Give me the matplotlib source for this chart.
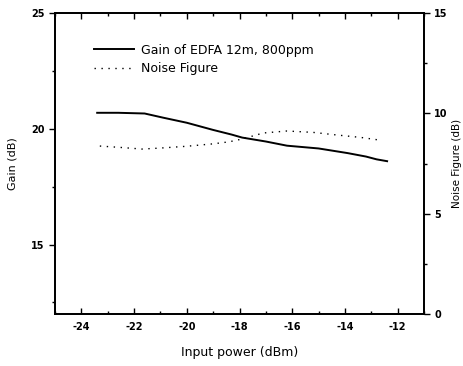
import matplotlib.pyplot as plt
from matplotlib.ticker import MultipleLocator

plt.rcParams["axes.unicode_minus"] = False

# --- Données ---
gain_x = [-23.4, -22.6, -21.6, -20.9, -20.0, -19.0, -18.3, -17.9, -17.0, -16.2, -15.0, -13.9, -13.2, -12.8, -12.4]
gain_db = [20.69, 20.69, 20.66, 20.48, 20.26, 19.95, 19.75, 19.62, 19.45, 19.27, 19.15, 18.95, 18.8, 18.68, 18.6]

nf_x = [-23.3, -22.5, -21.7, -21.0, -20.0, -19.0, -18.4, -17.9, -17.1, -16.2, -15.2, -14.3, -13.4, -12.7]
nf_db = [8.37, 8.3, 8.22, 8.27, 8.36, 8.48, 8.58, 8.72, 9.02, 9.12, 9.05, 8.92, 8.8, 8.67]

xticks = [-24, -22, -20, -18, -16, -14, -12]

fig = plt.figure(figsize=(4.63, 3.66), dpi=100)
ax = fig.add_axes([0.1188, 0.142, 0.797, 0.8225])
ax2 = ax.twinx()

ax.plot(gain_x, gain_db, color="black", lw=1.4, label="Gain of EDFA 12m, 800ppm")
ax2.plot(nf_x, nf_db, color="black", lw=1.0, linestyle=(0, (1, 4)), label="Noise Figure")

ax.set_xlim(-25, -11)
ax.set_ylim(12, 25)
ax2.set_ylim(0, 15)

ax.set_xticks(xticks)
ax.xaxis.set_minor_locator(MultipleLocator(1))
ax.set_yticks([15, 20, 25])
ax.yaxis.set_minor_locator(MultipleLocator(2.5))
ax2.set_yticks([0, 5, 10, 15])
ax2.yaxis.set_minor_locator(MultipleLocator(2.5))

ax.tick_params(axis="x", which="both", direction="in", top=True, labelsize=7, pad=6)
ax.tick_params(axis="x", which="major", length=4, width=1)
ax.tick_params(axis="x", which="minor", length=2, width=1)
ax.tick_params(axis="y", which="major", direction="out", length=4, width=1, labelsize=7)
ax.tick_params(axis="y", which="minor", direction="out", length=2, width=1)
ax2.tick_params(axis="y", which="major", direction="out", length=4, width=1, labelsize=7)
ax2.tick_params(axis="y", which="minor", direction="out", length=2, width=1)

for a in (ax, ax2):
    for s in a.spines.values():
        s.set_linewidth(1.3)
for lab in ax.get_xticklabels() + ax.get_yticklabels() + ax2.get_yticklabels():
    lab.set_fontweight("bold")

ax.set_xlabel("Input power (dBm)", fontsize=9, labelpad=10)
ax.set_ylabel("Gain (dB)", fontsize=8, labelpad=10)
ax2.set_ylabel("Noise Figure (dB)", fontsize=7.5, labelpad=3)

h1, l1 = ax.get_legend_handles_labels()
h2, l2 = ax2.get_legend_handles_labels()
ax.legend(h1 + h2, l1 + l2, loc="upper left", bbox_to_anchor=(0.075, 0.935),
          frameon=False, fontsize=9, handlelength=3.2, handletextpad=0.6, labelspacing=0.45)

fig.savefig("out.png", dpi=100)
